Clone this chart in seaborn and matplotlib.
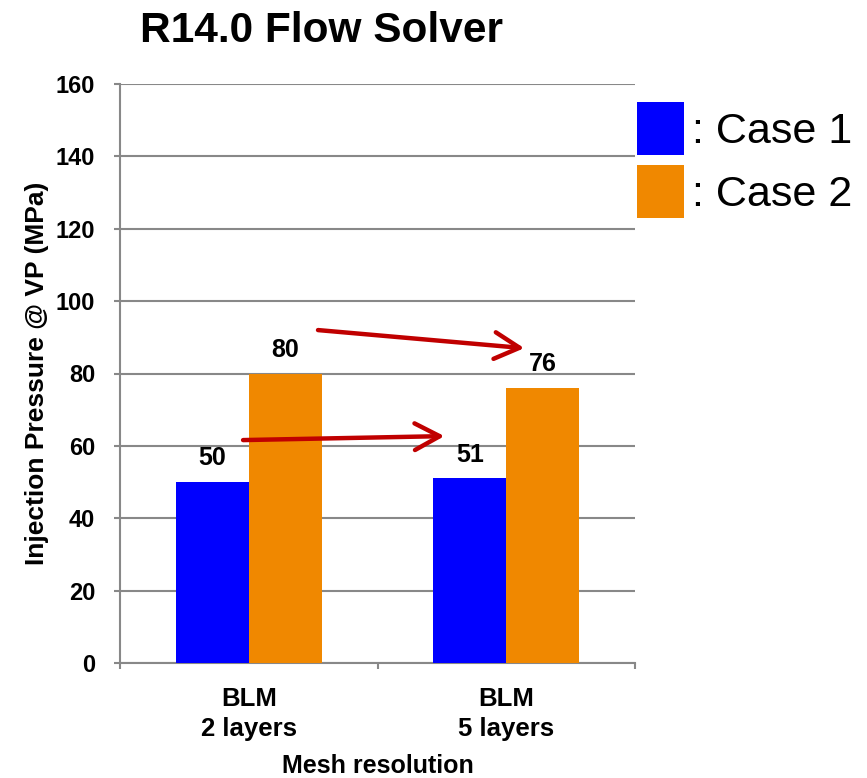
import matplotlib
matplotlib.use("Agg")
import matplotlib.pyplot as plt
import seaborn as sns
import pandas as pd
from matplotlib.patches import Patch

# ---- data ----
categories = ["BLM\n2 layers", "BLM\n5 layers"]
case_names = [": Case 1", ": Case 2"]
case1_values = [50, 51]
case2_values = [80, 76]
y_ticks = [0, 20, 40, 60, 80, 100, 120, 140, 160]
# annotation arrows (x in category units, y in MPa): (x0, y0, x1, y1)
arrows = [(0.269, 92.0, 1.070, 87.0), (-0.022, 61.6, 0.760, 62.7)]

colors = ["#0000FF", "#F08800"]

df = pd.DataFrame({
    "Mesh": categories * 2,
    "Case": [case_names[0]] * 2 + [case_names[1]] * 2,
    "Value": case1_values + case2_values,
})

sns.set_theme(style="white")
plt.rcParams["font.family"] = ["Liberation Sans", "DejaVu Sans"]
plt.rcParams["text.color"] = "black"
plt.rcParams["axes.labelcolor"] = "black"

fig = plt.figure(figsize=(8.67, 7.78), dpi=100)
ax = fig.add_axes([120 / 867, 1 - 663 / 778, (635 - 120) / 867, (663 - 84) / 778])

sns.barplot(data=df, x="Mesh", y="Value", hue="Case", palette=colors,
            width=0.567, ax=ax, saturation=1, legend=False, zorder=3, linewidth=0)

for cont in ax.containers:
    ax.bar_label(cont, fmt="%d", padding=8.5, fontsize=18, fontweight="bold", color="black")

ax.set_ylim(0, 160)
ax.set_xlim(-0.5, 1.5)
ax.set_yticks(y_ticks)
ax.yaxis.grid(True, color="#888888", linewidth=1.5, zorder=0)
ax.xaxis.grid(False)
for s in ["top", "right"]:
    ax.spines[s].set_visible(False)
for s in ["left", "bottom"]:
    ax.spines[s].set_color("#888888")
    ax.spines[s].set_linewidth(1.5)

ax.tick_params(axis="y", which="major", length=4.5, width=1.5, color="#888888",
               pad=13.5, labelsize=17, left=True, labelcolor="black")
for lbl in ax.get_yticklabels():
    lbl.set_fontweight("bold")
ax.set_xticks([-0.5, 0.5, 1.5], minor=True)
ax.tick_params(axis="x", which="minor", length=4.5, width=1.5, color="#888888", bottom=True)
ax.tick_params(axis="x", which="major", length=0, pad=17.5, labelsize=18.5, labelcolor="black")
for lbl in ax.get_xticklabels():
    lbl.set_fontweight("bold")
    lbl.set_linespacing(1.3)

ax.set_xlabel("Mesh resolution", fontsize=18, fontweight="bold", labelpad=9)
ax.set_ylabel("Injection Pressure @ VP (MPa)", fontsize=19, fontweight="bold", labelpad=4.5)

for x0, y0, x1, y1 in arrows:
    ax.annotate("", xy=(x1, y1), xytext=(x0, y0),
                arrowprops=dict(arrowstyle="->,head_length=1.5,head_width=0.8",
                                color="#C00000", lw=3.2, shrinkA=0, shrinkB=0),
                zorder=5)

fig.text(321 / 867, 1 - 42 / 778, "R14.0 Flow Solver", fontsize=30.5, fontweight="bold",
         ha="center", va="baseline")

handles = [Patch(facecolor=c, edgecolor="none") for c in colors]
fig.legend(handles, case_names, loc="upper left",
           bbox_to_anchor=(637 / 867, 1 - 102 / 778),
           frameon=False, fontsize=31, handlelength=1.091, handleheight=1.517,
           handletextpad=0.18, labelspacing=0.232, borderpad=0, borderaxespad=0)

fig.savefig("out.png", dpi=100)
